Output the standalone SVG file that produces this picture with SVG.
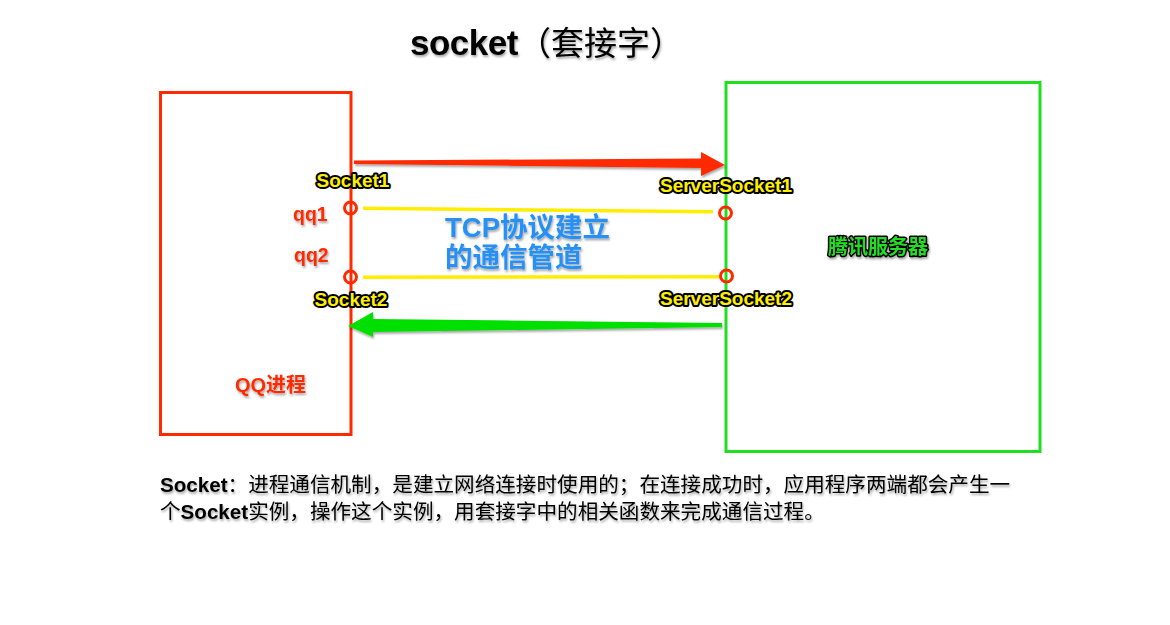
<svg xmlns="http://www.w3.org/2000/svg" width="1170" height="625" viewBox="0 0 1170 625">
<defs>
<filter id="sh" x="-10%" y="-30%" width="120%" height="160%">
<feDropShadow dx="1" dy="2" stdDeviation="1.2" flood-color="#000" flood-opacity="0.35"/>
</filter>
<style>
.bold{font-family:"Liberation Sans","Noto Sans CJK SC",sans-serif;font-weight:bold}
.lbl{font-size:19px;fill:#fff000;stroke:#000;stroke-width:4;paint-order:stroke;stroke-linejoin:round;text-anchor:middle}
.red{fill:#ff2a00}
.ring{fill:none;stroke:#ff2a00;stroke-width:3}
.pipe{stroke:#ffee00;stroke-width:3.5;fill:none}
.body{font-family:"Liberation Sans","Noto Sans CJK SC",sans-serif;font-size:20.6px;fill:#000}
</style>
</defs>
<rect width="1170" height="625" fill="#fff"/>

<text x="410" y="55" class="bold" font-size="35" letter-spacing="-0.5" fill="#000" filter="url(#sh)">socket<tspan font-weight="normal" font-size="33" letter-spacing="0">（套接字）</tspan></text>

<g id="qq-process">
<rect x="160.5" y="92.5" width="190.5" height="342" fill="none" stroke="#ff2a00" stroke-width="3"/>
<text x="235" y="392" class="bold red" font-size="20" filter="url(#sh)">QQ进程</text>
</g>

<g id="tencent-server">
<rect x="726" y="82.5" width="314" height="369" fill="none" stroke="#1ee01e" stroke-width="3"/>
<text x="878" y="254" class="bold" font-size="20" fill="#22dd22" stroke="#000" stroke-width="3" paint-order="stroke" stroke-linejoin="round" text-anchor="middle" filter="url(#sh)">腾讯服务器</text>
</g>

<g id="connectors">
<polygon points="354,160.5 701,158.5 701,152 725,165 701,176 701,168 354,164" fill="#ff2a00" filter="url(#sh)"/>
<polygon points="722,323 373,319 373,312 348,326 373,337 373,332 722,327" fill="#00e000" filter="url(#sh)"/>
<line class="pipe" x1="363" y1="208.3" x2="713" y2="211.7"/>
<line class="pipe" x1="363" y1="277.3" x2="719" y2="276.7"/>
</g>

<g id="socket1">
<circle class="ring" cx="350.5" cy="208" r="6"/>
<text x="353" y="187" class="bold lbl">Socket1</text>
<text x="293" y="221" class="bold red" font-size="19.5" filter="url(#sh)">qq1</text>
</g>
<g id="socket2">
<circle class="ring" cx="350.5" cy="277" r="6"/>
<text x="351" y="306" class="bold lbl">Socket2</text>
<text x="294" y="262" class="bold red" font-size="19.5" filter="url(#sh)">qq2</text>
</g>
<g id="serversocket1">
<circle class="ring" cx="725.5" cy="213" r="6"/>
<text x="726" y="192" class="bold lbl">ServerSocket1</text>
</g>
<g id="serversocket2">
<circle class="ring" cx="726.5" cy="276" r="6"/>
<text x="726" y="305" class="bold lbl">ServerSocket2</text>
</g>

<g id="tcp-label" filter="url(#sh)">
<text x="445" y="237" class="bold" font-size="27.5" fill="#2590f5">TCP协议建立</text>
<text x="445" y="267" class="bold" font-size="27.5" fill="#2590f5">的通信管道</text>
</g>

<g id="description" filter="url(#sh)">
<text x="160" y="492" class="body"><tspan font-weight="bold">Socket</tspan>：进程通信机制，是建立网络连接时使用的；在连接成功时，应用程序两端都会产生一</text>
<text x="160" y="519" class="body">个<tspan font-weight="bold">Socket</tspan>实例，操作这个实例，用套接字中的相关函数来完成通信过程。</text>
</g>
</svg>
